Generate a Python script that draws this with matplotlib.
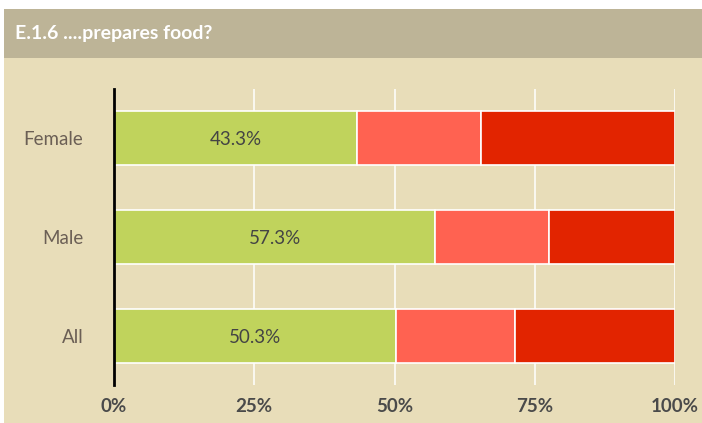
import matplotlib
matplotlib.use("Agg")
import matplotlib.pyplot as plt
import numpy as np
from matplotlib.patches import Rectangle

# ── Data ──────────────────────────────────────────────────────────────────────
categories = ["Female", "Male", "All"]
green_vals = [43.3, 57.3, 50.3]
salmon_vals = [22.2, 20.3, 21.2]
red_vals = [34.5, 22.4, 28.5]
xticks = [0, 25, 50, 75, 100]
xtick_labels = ["0%", "25%", "50%", "75%", "100%"]
title = "E.1.6 ....prepares food?"

# ── Style ─────────────────────────────────────────────────────────────────────
plt.rcParams["font.family"] = ["Lato", "DejaVu Sans"]
BG = "#E8DDB9"
HEADER = "#BDB497"
GREEN = "#C0D35C"
SALMON = "#FF6251"
RED = "#E22400"

fig = plt.figure(figsize=(7.02, 4.23), dpi=100)
fig.patch.set_facecolor("white")

W, H = 702, 423
# beige panel + header bar
fig.add_artist(Rectangle((4 / W, 0), 1 - 4 / W, 1 - 9 / H, transform=fig.transFigure,
                         facecolor=BG, edgecolor="none", zorder=0))
fig.add_artist(Rectangle((4 / W, 1 - 58 / H), 1 - 4 / W, 49 / H, transform=fig.transFigure,
                         facecolor=HEADER, edgecolor="none", zorder=1))
fig.text(15 / W, 1 - 33.5 / H, title, color="white", fontsize=14, fontweight="bold",
         va="center", ha="left")

ax = fig.add_axes([114 / W, 1 - 385 / H, 561 / W, 296 / H])
ax.set_facecolor(BG)

y = np.arange(len(categories))
h = 0.55
ax.barh(y, green_vals, height=h, color=GREEN, edgecolor="white", linewidth=1.2, zorder=3)
ax.barh(y, salmon_vals, left=green_vals, height=h, color=SALMON,
        edgecolor="white", linewidth=1.2, zorder=3)
left_red = np.array(green_vals) + np.array(salmon_vals)
ax.barh(y, red_vals, left=left_red, height=h, color=RED,
        edgecolor="white", linewidth=1.2, zorder=3)

for yi, v in zip(y, green_vals):
    ax.text(v / 2, yi, f"{v}%", ha="center", va="center_baseline", fontsize=13.5,
            color="#444444", zorder=4)

ax.set_xlim(0, 100)
ax.set_ylim(2.5, -0.5)
ax.set_yticks(y)
ax.set_yticklabels(categories, fontsize=13.5, color="#6B5F55")
for lbl in ax.get_yticklabels():
    lbl.set_verticalalignment("center_baseline")
ax.set_xticks(xticks)
ax.set_xticklabels(xtick_labels, fontsize=13.5, fontweight="bold", color="#4A4A4A")
ax.tick_params(axis="both", length=0)
ax.tick_params(axis="y", pad=22)
ax.tick_params(axis="x", pad=9)

for s in ["top", "right", "bottom"]:
    ax.spines[s].set_visible(False)
ax.spines["left"].set_color("black")
ax.spines["left"].set_linewidth(2)
ax.spines["left"].set_zorder(5)

ax.grid(axis="x", color="white", linewidth=1.1, zorder=1)
ax.set_axisbelow(True)

fig.savefig("out.png", dpi=100, facecolor=fig.get_facecolor())
